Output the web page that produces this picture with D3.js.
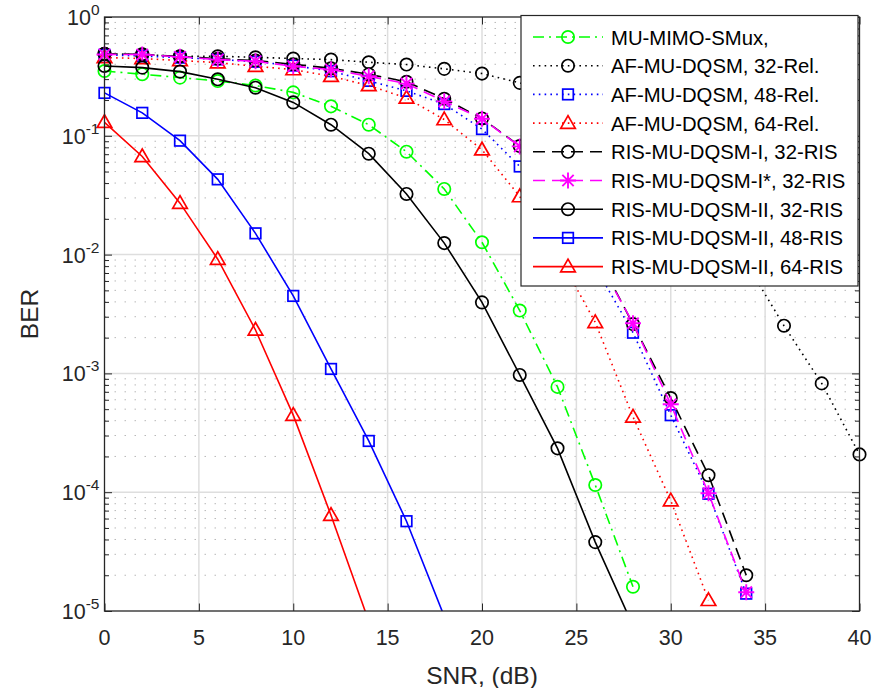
<!DOCTYPE html>
<html><head><meta charset="utf-8">
<script src="https://cdn.jsdelivr.net/npm/d3@7"></script>
<style>body{margin:0;background:#fff}svg{display:block}</style>
</head><body><svg id="c" width="874" height="688"></svg>
<script>
// ---------- data ----------
const snr0to40 = [0,2,4,6,8,10,12,14,16,18,20,22,24,26,28,30,32,34,36,38,40];
const snr0to34 = [0,2,4,6,8,10,12,14,16,18,20,22,24,26,28,30,32,34];
const snr0to32 = [0,2,4,6,8,10,12,14,16,18,20,22,24,26,28,30,32];
const snr0to28 = [0,2,4,6,8,10,12,14,16,18,20,22,24,26,28];
const snr0to18 = [0,2,4,6,8,10,12,14,16,18];
const snr0to14 = [0,2,4,6,8,10,12,14];

const berMuMimoSMux = [0.351,0.33,0.309,0.289,0.265,0.232,0.177,0.124,0.0735,0.0357,0.0127,0.00338,0.00077,0.000115,1.6e-5];
const berAF32Rel = [0.49,0.483,0.467,0.467,0.458,0.447,0.438,0.416,0.398,0.366,0.334,0.279,0.21,0.14,0.085,0.045,0.021,0.0085,0.00252,0.000824,0.000208];
const berAF48Rel = [0.48,0.47,0.455,0.44,0.42,0.39,0.35,0.29,0.239,0.185,0.114,0.0552,0.024,0.0079,0.0022,0.000445,9.7e-5,1.4e-5];
const berAF64Rel = [0.456,0.447,0.43,0.413,0.385,0.361,0.317,0.265,0.208,0.137,0.0763,0.0308,0.0102,0.00269,0.00043,8.5e-5,1.23e-5];
const berRisI32 = [0.49,0.485,0.465,0.445,0.43,0.40,0.37,0.33,0.285,0.205,0.14,0.082,0.032,0.0105,0.0026,0.00062,0.000139,2.0e-5];
const berRisIStar32 = [0.483,0.483,0.462,0.438,0.424,0.385,0.361,0.317,0.275,0.195,0.139,0.0814,0.0316,0.01,0.00264,0.00055,9.8e-5,1.44e-5];
const berRisII32 = [0.387,0.375,0.347,0.299,0.254,0.191,0.124,0.0707,0.0324,0.0125,0.00396,0.00097,0.000234,3.8e-5,7.5e-6];
const berRisII48 = [0.2296,0.156,0.091,0.043,0.0151,0.00449,0.00109,0.00027,5.7e-5,9e-6];
const berRisII64 = [0.13,0.067,0.0271,0.00915,0.00232,0.000445,6.4e-5,8.2e-6];

const seriesNames = ["MU-MIMO-SMux,","AF-MU-DQSM, 32-Rel.","AF-MU-DQSM, 48-Rel.","AF-MU-DQSM, 64-Rel.",
  "RIS-MU-DQSM-I, 32-RIS","RIS-MU-DQSM-I*, 32-RIS","RIS-MU-DQSM-II, 32-RIS","RIS-MU-DQSM-II, 48-RIS","RIS-MU-DQSM-II, 64-RIS"];
const xTicks = [0,5,10,15,20,25,30,35,40];
const yTickExps = [0,-1,-2,-3,-4,-5];

// ---------- styles ----------
const DASH = {solid:null, dashdot:"11,5,2,5", dotted:"1.6,4.2", dashed:"12,7"};
const series = [
  {x:snr0to28, y:berMuMimoSMux, color:"#00ff00", dash:"dashdot", marker:"circle"},
  {x:snr0to40, y:berAF32Rel, color:"#000000", dash:"dotted", marker:"circle"},
  {x:snr0to34, y:berAF48Rel, color:"#0000ff", dash:"dotted", marker:"square"},
  {x:snr0to32, y:berAF64Rel, color:"#ff0000", dash:"dotted", marker:"triangle"},
  {x:snr0to34, y:berRisI32, color:"#000000", dash:"dashed", marker:"circle"},
  {x:snr0to34, y:berRisIStar32, color:"#ff00ff", dash:"dashed", marker:"star"},
  {x:snr0to28, y:berRisII32, color:"#000000", dash:"solid", marker:"circle"},
  {x:snr0to18, y:berRisII48, color:"#0000ff", dash:"solid", marker:"square"},
  {x:snr0to14, y:berRisII64, color:"#ff0000", dash:"solid", marker:"triangle"}
].map((s,i)=>({...s, name:seriesNames[i]}));

const L=104.5, R=859.5, T=17, B=611;
const AX="#262626", FONT="'Liberation Sans', Arial, Helvetica, sans-serif";
const svg = d3.select("#c");
const x = d3.scaleLinear().domain([0,40]).range([L,R]);
const y = d3.scaleLog().domain([1e-5,1]).range([B,T]);

svg.append("rect").attr("x",0).attr("y",0).attr("width",874).attr("height",688).attr("fill","#fff");

// grid
const g = svg.append("g");
const minorVals = [];
for (let e=-5;e<0;e++) for (let k=2;k<=9;k++) minorVals.push(k*Math.pow(10,e));
g.selectAll(".mg").data(minorVals).enter().append("line")
  .attr("x1",L).attr("x2",R).attr("y1",d=>y(d)).attr("y2",d=>y(d))
  .attr("stroke","#b8b8b8").attr("stroke-width",1).attr("stroke-dasharray","1.5,8.5");
g.selectAll(".gy").data(yTickExps.slice(1,5)).enter().append("line")
  .attr("x1",L).attr("x2",R).attr("y1",d=>y(Math.pow(10,d))).attr("y2",d=>y(Math.pow(10,d)))
  .attr("stroke","#dedede").attr("stroke-width",1.5);
g.selectAll(".gx").data(xTicks.slice(1,-1)).enter().append("line")
  .attr("y1",T).attr("y2",B).attr("x1",d=>x(d)).attr("x2",d=>x(d))
  .attr("stroke","#dedede").attr("stroke-width",1.5);

// axes via d3 axis (inside ticks)
const xAxisB = d3.axisBottom(x).tickValues(xTicks).tickSize(-7.5).tickFormat("");
const xAxisT = d3.axisTop(x).tickValues(xTicks).tickSize(-7.5).tickFormat("");
const yMajor = yTickExps.map(e=>Math.pow(10,e));
const yAxisL = d3.axisLeft(y).tickValues(yMajor).tickSize(-7.5).tickFormat("");
const yAxisR = d3.axisRight(y).tickValues(yMajor).tickSize(-7.5).tickFormat("");
const yMinL = d3.axisLeft(y).tickValues(minorVals).tickSize(-4.5).tickFormat("");
const yMinR = d3.axisRight(y).tickValues(minorVals).tickSize(-4.5).tickFormat("");
function styleAxis(sel){ sel.selectAll("path").remove(); sel.selectAll("line").attr("stroke",AX).attr("stroke-width",1); }
svg.append("g").attr("transform",`translate(0,${B})`).call(xAxisB).call(styleAxis);
svg.append("g").attr("transform",`translate(0,${T})`).call(xAxisT).call(styleAxis);
svg.append("g").attr("transform",`translate(${L},0)`).call(yAxisL).call(styleAxis);
svg.append("g").attr("transform",`translate(${R},0)`).call(yAxisR).call(styleAxis);
svg.append("g").attr("transform",`translate(${L},0)`).call(yMinL).call(styleAxis);
svg.append("g").attr("transform",`translate(${R},0)`).call(yMinR).call(styleAxis);

// data
svg.append("clipPath").attr("id","clip").append("rect").attr("x",L).attr("y",T).attr("width",R-L).attr("height",B-T);
const line = d3.line().x(d=>x(d[0])).y(d=>y(d[1]));

function drawMarker(sel, type, cx, cy, color){
  const gg = sel.append("g").attr("transform",`translate(${cx},${cy})`)
    .attr("fill","none").attr("stroke",color).attr("stroke-width",1.7);
  if (type==="circle") gg.append("circle").attr("r",6.2);
  else if (type==="square") gg.append("rect").attr("x",-5.3).attr("y",-5.3).attr("width",10.6).attr("height",10.6);
  else if (type==="triangle") gg.append("path").attr("d","M0,-7.5L7.3,5.2L-7.3,5.2Z");
  else if (type==="star") {
    const r=8, d=r*0.7071;
    gg.attr("stroke-width",1.9);
    gg.append("path").attr("d",`M${-r},0L${r},0M0,${-r}L0,${r}M${-d},${-d}L${d},${d}M${-d},${d}L${d},${-d}`);
  }
}

series.forEach(s=>{
  const pts = s.x.map((v,i)=>[v,s.y[i]]);
  svg.append("path").attr("d",line(pts)).attr("clip-path","url(#clip)")
    .attr("fill","none").attr("stroke",s.color).attr("stroke-width",1.6)
    .attr("stroke-dasharray",DASH[s.dash]);
  const mg = svg.append("g");
  pts.filter(p=>p[1]>=1e-5).forEach(p=>drawMarker(mg,s.marker,x(p[0]),y(p[1]),s.color));
});

// frame
svg.append("rect").attr("x",L).attr("y",T).attr("width",R-L).attr("height",B-T)
  .attr("fill","none").attr("stroke",AX).attr("stroke-width",1.3);

// tick labels
svg.append("g").selectAll("text").data(xTicks).enter().append("text")
  .attr("x",d=>x(d)).attr("y",B+34).attr("text-anchor","middle")
  .attr("font-family",FONT).attr("font-size",21.5).attr("fill",AX).text(d=>d);
const yl = svg.append("g").selectAll("text").data(yTickExps).enter().append("text")
  .attr("x",L-5).attr("y",d=>y(Math.pow(10,d))+8).attr("text-anchor","end")
  .attr("font-family",FONT).attr("font-size",21.5).attr("fill",AX);
yl.append("tspan").text("10");
yl.append("tspan").attr("dy",-10).attr("font-size",15.5).text(d=>d===0?"0":"-"+(-d));

// axis labels
svg.append("text").attr("x",(L+R)/2).attr("y",684).attr("text-anchor","middle")
  .attr("font-family",FONT).attr("font-size",24.5).attr("fill",AX).text("SNR, (dB)");
svg.append("text").attr("transform",`translate(38,${(T+B)/2}) rotate(-90)`).attr("text-anchor","middle")
  .attr("font-family",FONT).attr("font-size",24.5).attr("fill",AX).text("BER");

// legend
const LX0=521, LY0=15.5, LX1=858, LY1=286;
const lg = svg.append("g");
lg.append("rect").attr("x",LX0).attr("y",LY0).attr("width",LX1-LX0).attr("height",LY1-LY0)
  .attr("fill","#fff").attr("stroke",AX).attr("stroke-width",1.2);
series.forEach((s,i)=>{
  const cy = 37 + i*28.7;
  lg.append("line").attr("x1",533).attr("x2",603).attr("y1",cy).attr("y2",cy)
    .attr("stroke",s.color).attr("stroke-width",1.6).attr("stroke-dasharray",DASH[s.dash]);
  drawMarker(lg,s.marker,568,cy,s.color);
  lg.append("text").attr("x",611).attr("y",cy+7.5).attr("font-family",FONT).attr("font-size",20.3)
    .attr("fill","#000").text(s.name);
});
</script></body></html>
